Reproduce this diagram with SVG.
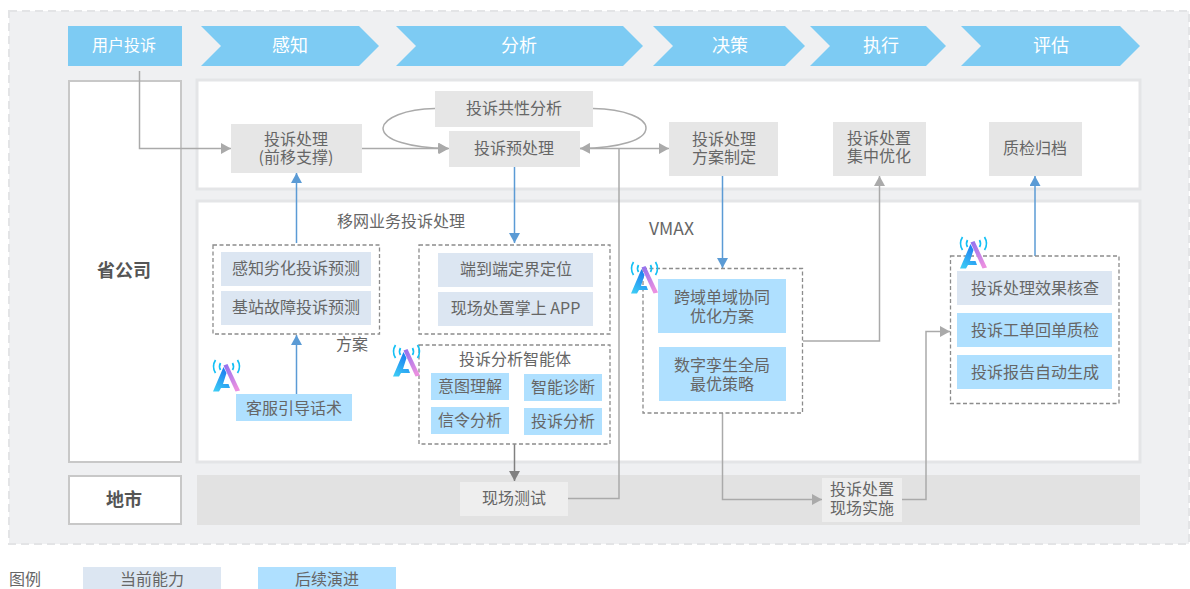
<svg xmlns="http://www.w3.org/2000/svg" width="1190" height="589" viewBox="0 0 1190 589">
<style>
text{font-family:"Noto Sans CJK SC","Liberation Sans",sans-serif;font-size:16px;fill:#666;text-anchor:middle}
.t{fill:#fff;font-size:18px}
.r{font-weight:700;font-size:18px;fill:#555}
.g{fill:#e6e6e6}.c{fill:#dce6f2}.b{fill:#afe0ff}.l{fill:#eeeeee}
.d{fill:none;stroke:#8c8c8c;stroke-width:1.3;stroke-dasharray:4 2.5}
.p{fill:#fff;stroke:#e4e5e7;stroke-width:3}
.s{fill:#fff;stroke:#c8c8c8;stroke-width:2}
.hd{fill:#7dcbf3}
.a{fill:none;stroke:#aaa;stroke-width:1.5}
.u{fill:none;stroke:#5b9bd5;stroke-width:1.5}
</style>
<defs>
<marker id="ag" markerUnits="userSpaceOnUse" markerWidth="11" markerHeight="11" refX="10" refY="5.5" orient="auto"><path d="M0 0L10 5.5L0 11z" fill="#aaa"/></marker>
<marker id="ab" markerUnits="userSpaceOnUse" markerWidth="11" markerHeight="11" refX="10" refY="5.5" orient="auto"><path d="M0 0L10 5.5L0 11z" fill="#5b9bd5"/></marker>
<marker id="ad" markerUnits="userSpaceOnUse" markerWidth="11" markerHeight="11" refX="10" refY="5.5" orient="auto"><path d="M0 0L10 5.5L0 11z" fill="#808080"/></marker>
<linearGradient id="g1" x1="0.700" y1="0" x2="0.200" y2="1"><stop offset="0" stop-color="#1a78f0"/><stop offset="1" stop-color="#3ccbf5"/></linearGradient>
<linearGradient id="g2" x1="0" y1="0" x2="0.600" y2="1"><stop offset="0" stop-color="#8d6ff0"/><stop offset="1" stop-color="#ea8fe0"/></linearGradient>
<symbol id="ic" width="28" height="32" viewBox="0 0 28 32" overflow="visible">
<path d="M0 31.500L10.500 7L13.500 13L10 24H15.500L17 28H8L6 31.500z" fill="url(#g1)"/>
<path d="M10.500 5.500L14.500 4L27 30.500L22.500 31.500z" fill="url(#g2)"/>
<path d="M2.500 0Q-1.500 6.500 2.500 13M24.500 0Q28.500 6.500 24.500 13M7.500 3Q5.500 6.500 7.500 10M19.500 3Q21.500 6.500 19.500 10" fill="none" stroke="#13c0f5" stroke-width="1.700"/>
</symbol>
</defs>

<rect x="9" y="11" width="1180" height="533" fill="#eff0f2" stroke="#e3e4e6" stroke-width="2" stroke-dasharray="8 5"/>

<g id="n-user"><rect class="hd" x="68" y="26" width="114" height="40"/><text x="124" y="51" style="fill:#fff">用户投诉</text></g>
<g id="n-perceive"><path class="hd" d="M201 26H359L379 46L359 66H201L221 46z"/><text class="t" x="290" y="52">感知</text></g>
<g id="n-analyze"><path class="hd" d="M396 26H623L643 46L623 66H396L416 46z"/><text class="t" x="519" y="52">分析</text></g>
<g id="n-decide"><path class="hd" d="M653 26H785L805 46L785 66H653L673 46z"/><text class="t" x="730" y="52">决策</text></g>
<g id="n-execute"><path class="hd" d="M810 26H926L946 46L926 66H810L830 46z"/><text class="t" x="881" y="52">执行</text></g>
<g id="n-evaluate"><path class="hd" d="M961 26H1120L1140 46L1120 66H961L981 46z"/><text class="t" x="1051" y="52">评估</text></g>

<g id="n-province"><rect class="s" x="69" y="81" width="112" height="381"/><text class="r" x="124" y="277">省公司</text></g>
<g id="n-city"><rect class="s" x="69" y="476" width="112" height="48"/><text class="r" x="124" y="506">地市</text></g>
<g id="panel-top"><rect class="p" x="197" y="80" width="943" height="109"/></g>
<g id="panel-mid"><rect class="p" x="197" y="201" width="943" height="261"/></g>
<g id="band-city"><rect x="197" y="475" width="943" height="50" fill="#e2e2e2"/></g>

<g id="n-common"><rect class="g" x="435" y="91" width="158" height="36"/><text x="514" y="114">投诉共性分析</text></g>

<g id="connectors">
<path class="a" d="M435 108.500C405 109 384 118 383 128C383 140 410 148 448 148.500" marker-end="url(#ag)"/>
<path class="a" d="M593 108.500C625 109 646 118 646 128C646 140 620 148 580 148.500" marker-end="url(#ag)"/>
<path class="a" d="M139.500 71V148.500H231" marker-end="url(#ag)"/>
<path class="a" d="M362 148.500H449" marker-end="url(#ag)"/>
<path class="a" d="M579 148.500H669" marker-end="url(#ag)"/>
<path class="a" d="M568 498.500H619V148.500"/>
<path class="u" d="M296.500 243V173" marker-end="url(#ab)"/>
<path class="u" d="M296.500 394V335" marker-end="url(#ab)"/>
<path class="u" d="M514.500 166V243" marker-end="url(#ab)"/>
<path class="u" d="M722.500 176V268" marker-end="url(#ab)"/>
<path class="u" d="M1035 256V176" marker-end="url(#ab)"/>
<path class="a" d="M803 341H879.500V176" marker-end="url(#ag)"/>
<path class="a" d="M722.500 413V499.500H822" marker-end="url(#ag)"/>
<path class="a" d="M902 499.500H926V331.500H950" marker-end="url(#ag)"/>
<path d="M514.500 444V481" fill="none" stroke="#808080" stroke-width="1.500" marker-end="url(#ad)"/>
</g>

<g id="n-proc"><rect class="g" x="231" y="124" width="131" height="49"/><text x="296" y="145">投诉处理<tspan x="296" dy="18">(前移支撑)</tspan></text></g>
<g id="n-pre"><rect class="g" x="449" y="131" width="131" height="36"/><text x="514" y="154">投诉预处理</text></g>
<g id="n-plan"><rect class="g" x="669" y="122" width="109" height="54"/><text x="724" y="145">投诉处理<tspan x="724" dy="18">方案制定</tspan></text></g>
<g id="n-opt"><rect class="g" x="833" y="122" width="93" height="54"/><text x="879" y="144">投诉处置<tspan x="879" dy="18">集中优化</tspan></text></g>
<g id="n-arch"><rect class="g" x="989" y="122" width="93" height="54"/><text x="1035" y="154">质检归档</text></g>

<text x="401" y="227">移网业务投诉处理</text>
<text x="671.500" y="235" style="font-size:17.500px">VMAX</text>
<text x="352" y="350">方案</text>

<g id="n-predict"><rect class="d" x="213" y="245" width="166.500" height="89"/>
<rect class="c" x="221" y="252" width="150" height="34"/><text x="296" y="274">感知劣化投诉预测</text>
<rect class="c" x="221" y="291" width="150" height="34"/><text x="296" y="313">基站故障投诉预测</text></g>
<g id="n-guide"><rect class="b" x="236" y="394" width="116" height="27"/><text x="294" y="414">客服引导话术</text></g>
<use href="#ic" x="213" y="360"/>

<g id="n-locate"><rect class="d" x="419" y="245" width="191" height="89"/>
<rect class="c" x="438" y="253" width="155" height="34"/><text x="516" y="275">端到端定界定位</text>
<rect class="c" x="438" y="292" width="155" height="34"/><text x="515.500" y="314">现场处置掌上 APP</text></g>

<g id="n-agent"><rect class="d" x="419" y="345" width="191" height="99"/>
<text x="515" y="365">投诉分析智能体</text>
<rect class="b" x="431" y="373" width="78" height="27"/><text x="470" y="392">意图理解</text>
<rect class="b" x="524" y="374" width="78" height="27"/><text x="563" y="393">智能诊断</text>
<rect class="b" x="431" y="407" width="78" height="27"/><text x="470" y="426">信令分析</text>
<rect class="b" x="524" y="408" width="78" height="27"/><text x="563" y="427">投诉分析</text></g>
<use href="#ic" x="393" y="345"/>

<g id="n-test"><rect class="l" x="460" y="482" width="108" height="34"/><text x="514" y="504">现场测试</text></g>

<g id="n-vmax"><rect class="d" x="643" y="268.500" width="159.500" height="144.500"/>
<rect class="b" x="658" y="279" width="128" height="54"/><text x="722" y="303">跨域单域协同<tspan x="722" dy="19">优化方案</tspan></text>
<rect class="b" x="659" y="347" width="127" height="54"/><text x="722" y="371">数字孪生全局<tspan x="722" dy="19">最优策略</tspan></text></g>
<use href="#ic" x="631" y="262"/>

<g id="n-check"><rect class="d" x="950.500" y="256" width="168.500" height="147.500"/>
<rect class="c" x="957" y="271" width="155" height="34"/><text x="1035" y="294">投诉处理效果核查</text>
<rect class="b" x="957" y="313" width="155" height="34"/><text x="1035" y="336">投诉工单回单质检</text>
<rect class="b" x="957" y="355" width="155" height="34"/><text x="1035" y="378">投诉报告自动生成</text></g>
<use href="#ic" x="960" y="237"/>

<g id="n-field"><rect class="l" x="822" y="478" width="80" height="44"/><text x="862" y="495">投诉处置<tspan x="862" dy="19">现场实施</tspan></text></g>

<g id="legend">
<text x="25" y="585">图例</text>
<rect class="c" x="83" y="567" width="138" height="22"/><text x="152" y="585">当前能力</text>
<rect class="b" x="258" y="567" width="138" height="22"/><text x="327" y="585">后续演进</text>
</g>
</svg>
